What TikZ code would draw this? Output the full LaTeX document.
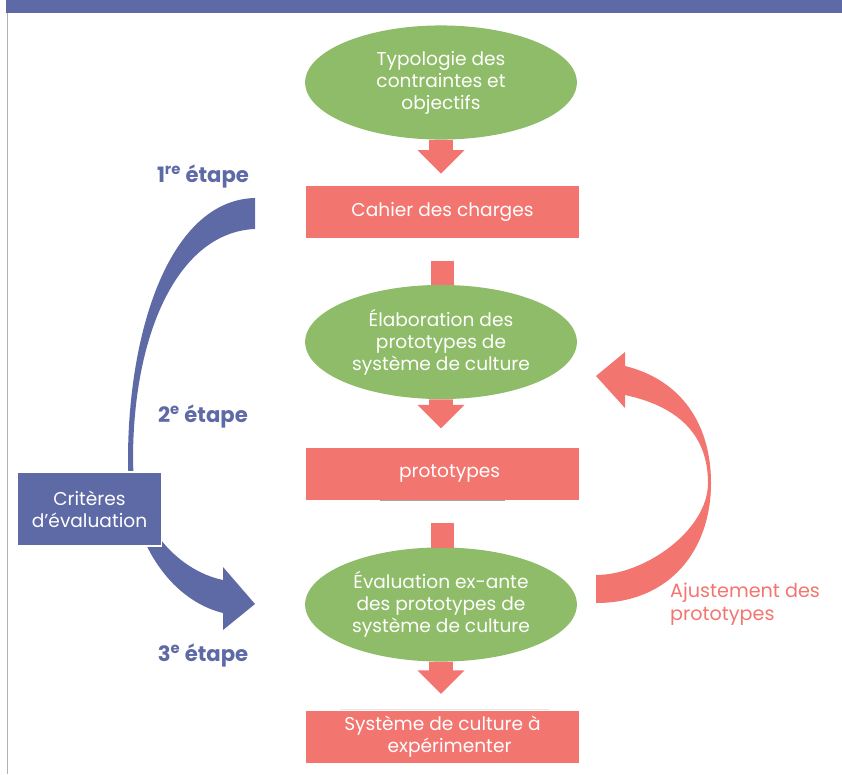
\documentclass[tikz,border=0pt]{standalone}
\usepackage{fontspec}
\setmainfont{Poppins}
\usetikzlibrary{shapes.geometric,positioning,calc}
\definecolor{bandeau}{HTML}{5E6AA6}
\definecolor{saumon}{HTML}{F27570}
\definecolor{vert}{HTML}{8FBC68}
\tikzset{
    ovale/.style={ellipse, fill=vert, text=white, inner sep=0pt,
        minimum width=231pt, minimum height=97pt, align=center,
        font=\fontsize{15.8}{18.7}\selectfont},
    cadre/.style={rectangle, fill=saumon, text=white, inner sep=0pt,
        minimum width=232pt, minimum height=45pt, align=center,
        font=\fontsize{15.8}{18.7}\selectfont},
    etape/.style={text=bandeau, font=\bfseries\fontsize{18}{20}\selectfont},
    ajust/.style={text=saumon, anchor=west, align=left, inner sep=0pt,
        font=\fontsize{16.3}{19.5}\selectfont},
    critere/.style={rectangle, fill=bandeau, draw=white, line width=1pt,
        text=white, minimum width=123pt, minimum height=63pt, align=center,
        font=\fontsize{15.8}{18.7}\selectfont}
}
% fleche pleine : tige depuis #1, pointe a #3 au-dessus de #2
\newcommand{\fleche}[3]{%
    \fill[saumon] let \p1=(#1.south), \p2=(#2.north) in
        (\x1-10pt,\y1) -- (\x1+10pt,\y1) -- (\x1+10pt,\y2+#3+20pt)
        -- (\x1+20pt,\y2+#3+20pt) -- (\x1,\y2+#3) -- (\x1-20pt,\y2+#3+20pt)
        -- (\x1-10pt,\y2+#3+20pt) -- cycle;}
% tige seule
\newcommand{\tige}[2]{%
    \fill[saumon] let \p1=(#1.south), \p2=(#2.north) in
        (\x1-10pt,\y1-19pt) rectangle (\x1+10pt,\y2-0.3pt);}

\begin{document}
\begin{tikzpicture}[x=0.85pt,y=-0.85pt]
\useasboundingbox (0,0) rectangle (842,774);
\fill[bandeau] (6,0) rectangle (842,13);
\draw[gray!60, line width=1pt] (7.5,13) -- (7.5,774);

\node[ovale] (typo) at (441,82.5) {Typologie des\\contraintes et\\objectifs};
\node[cadre] (cahier) at (442.5,212) {Cahier des charges};
\node[ovale] (elab) at (441,342) {Élaboration des\\prototypes de\\système de culture};
\node[cadre] (proto) at (442.5,474) {\hspace*{12pt}prototypes};
\node[ovale] (eval) at (441,604.5) {Évaluation ex-ante\\des prototypes de\\système de culture};
\node[cadre] (syst) at (442.5,737) {Système de culture à\\\hspace*{12pt}expérimenter};
\draw[gray!70, line width=0.8pt] (380,500) -- (505,500);
\draw[gray!20, line width=0.8pt] (340,709) -- (549,709);

\fleche{typo}{cahier}{10pt}
\tige{cahier}{elab}
\fleche{elab}{proto}{16pt}
\tige{proto}{eval}
\fleche{eval}{syst}{14pt}

% grande fleche bleue
\fill[bandeau] (255,198) .. controls (170,200) and (128,330) .. (128,460)
    .. controls (128,540) and (170,600) .. (223,613) -- (223,630) -- (255,604)
    -- (223,567) -- (223,580)
    .. controls (175,570) and (133,520) .. (133,460)
    .. controls (133,330) and (180,232) .. (255,229) -- cycle;
% fleche retour
\fill[saumon] (596,575) .. controls (645,575) and (708,530) .. (708,483)
    .. controls (708,430) and (672,405) .. (625,395) -- (625,408) -- (596,376)
    -- (625,352) -- (625,366)
    .. controls (682,380) and (711,425) .. (711,483)
    .. controls (711,550) and (670,603) .. (596,603) -- cycle;

\node[etape] (e1) at (203,176) {1\textsuperscript{re} étape};
\node[etape] (e2) at (203,416) {2\textsuperscript{e} étape};
\node[etape] (e3) at (203,655) {3\textsuperscript{e} étape};
\node[critere] (crit) at (89.5,509) {Critères\\d’évaluation};
\node[ajust] (aj) at (670,604.5) {Ajustement des\\prototypes};
\end{tikzpicture}
\end{document}
